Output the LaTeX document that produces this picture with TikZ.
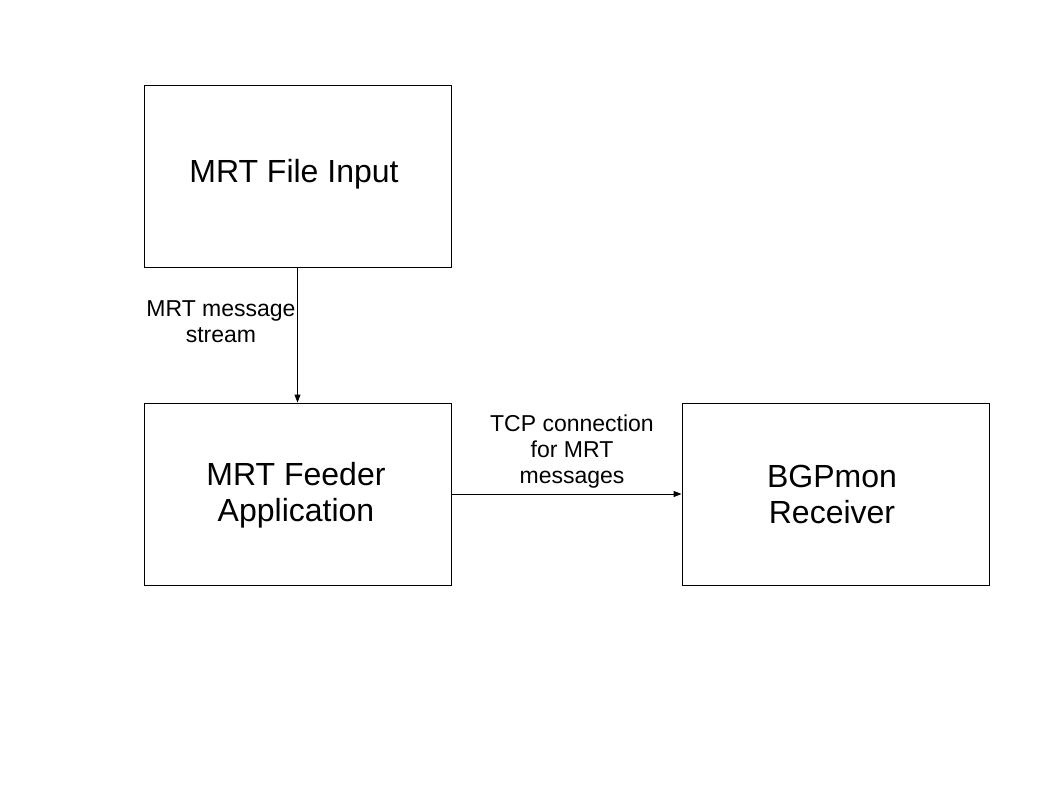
\documentclass[tikz,border=0pt]{standalone}
\usepackage{fontspec}
\setmainfont{Liberation Sans}
\usetikzlibrary{arrows.meta}
\begin{document}
\begin{tikzpicture}[x=1pt,y=-1pt,
  box/.style={draw=black,line width=1pt,minimum width=307pt,minimum height=182pt,inner sep=0pt},
  big/.style={align=center,inner sep=0pt,font=\fontsize{32}{36}\selectfont},
  small/.style={align=center,inner sep=0pt,font=\fontsize{23}{26}\selectfont},
  conn/.style={line width=1pt,-{Triangle[length=8pt,width=6pt]}}]
\useasboundingbox[fill=white] (0,0) rectangle (1058,794);
\node[box] (input) at (297.5,177) {};
\node[box] (feeder) at (297.5,494) {};
\node[box] (bgpmon) at (835.5,494) {};
\node[big] (t1) at (294,174.5) {MRT File Input};
\node[big] (t2) at (296,495) {MRT Feeder\\Application};
\node[big] (t3) at (832,494) {BGPmon\\Receiver};
\draw[conn] (input.south) -- (feeder.north);
\draw[conn] (feeder.east) -- (bgpmon.west);
\node[small] (l1) at (221,322) {MRT message\\stream};
\node[small] (l2) at (572,452) {TCP connection\\for MRT\\messages};
\end{tikzpicture}
\end{document}
